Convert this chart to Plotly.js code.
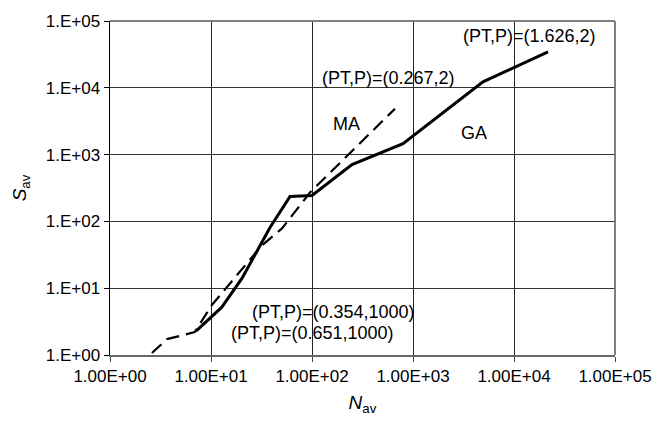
<!DOCTYPE html>
<html>
<head>
<meta charset="utf-8">
<script src="https://cdn.plot.ly/plotly-3.0.1.min.js"></script>
<style>html,body{margin:0;padding:0;background:#fff;}#chart{width:654px;height:421px;}</style>
</head>
<body>
<div id="chart"></div>
<script>
// GA series (solid)
const gaN = [7.1, 12.8, 20.3, 38.4, 60.6, 100, 249, 796, 4930, 21700];
const gaS = [2.28, 5.2, 14.1, 81, 236, 244, 710, 1460, 12300, 34400];
// MA series (dashed)
const maN = [2.6, 3.67, 6.9, 10.2, 32, 50.5, 95.5, 663];
const maS = [1.07, 1.73, 2.2, 5.6, 43.8, 78.6, 271, 4860];
// tick labels
const xTickVals = [1, 10, 100, 1000, 10000, 100000];
const xTickText = ["1.00E+00", "1.00E+01", "1.00E+02", "1.00E+03", "1.00E+04", "1.00E+05"];
const yTickVals = [1, 10, 100, 1000, 10000, 100000];
const yTickText = ["1.E+00", "1.E+01", "1.E+02", "1.E+03", "1.E+04", "1.E+05"];
// annotations
const noteText = ["(PT,P)=(1.626,2)", "(PT,P)=(0.267,2)", "MA", "GA", "(PT,P)=(0.354,1000)", "(PT,P)=(0.651,1000)"];
const noteX = [14400, 578, 222, 4020, 165, 102];
const noteY = [59700, 14100, 2900, 2130, 4.38, 2.13];

const font = "Arial, 'Liberation Sans', sans-serif";
const traces = [
  {x: gaN, y: gaS, mode: 'lines', line: {color: '#000', width: 3}, hoverinfo: 'skip'},
  {x: maN, y: maS, mode: 'lines', line: {color: '#000', width: 2.2, dash: '13px,7px'}, hoverinfo: 'skip'}
];
const annotations = noteText.map((t, i) => ({
  x: Math.log10(noteX[i]), y: Math.log10(noteY[i]), text: t, showarrow: false,
  xref: 'x', yref: 'y', font: {family: font, size: 18, color: '#000'}
}));
const layout = {
  width: 654, height: 421,
  margin: {l: 110, r: 39, t: 21, b: 66},
  paper_bgcolor: '#fff', plot_bgcolor: '#fff',
  showlegend: false,
  font: {family: font, size: 17, color: '#000'},
  xaxis: {
    type: 'log', range: [0, 5], tickvals: xTickVals, ticktext: xTickText,
    showgrid: true, gridcolor: '#222', gridwidth: 1,
    showline: true, linecolor: '#666', linewidth: 2, mirror: false,
    ticks: 'outside', ticklen: 5, tickcolor: '#444', zeroline: false,
    title: {text: '<i>N</i><sub>av</sub>', font: {family: font, size: 19}, standoff: 10}
  },
  yaxis: {
    type: 'log', range: [0, 5], tickvals: yTickVals, ticktext: yTickText,
    showgrid: true, gridcolor: '#333', gridwidth: 1,
    showline: true, linecolor: '#000', linewidth: 1.5,
    ticks: 'outside', ticklen: 5, tickcolor: '#000', zeroline: false,
    title: {text: '<i>S</i><sub>av</sub>', font: {family: font, size: 19}, standoff: 14}
  },
  shapes: [
    {type: 'line', xref: 'paper', yref: 'paper', x0: 0, x1: 1, y0: 1, y1: 1, line: {color: '#808080', width: 2}},
    {type: 'line', xref: 'paper', yref: 'paper', x0: 1, x1: 1, y0: 0, y1: 1, line: {color: '#808080', width: 2}}
  ],
  annotations: annotations
};
Plotly.newPlot('chart', traces, layout, {displayModeBar: false, staticPlot: true});
</script>
</body>
</html>
